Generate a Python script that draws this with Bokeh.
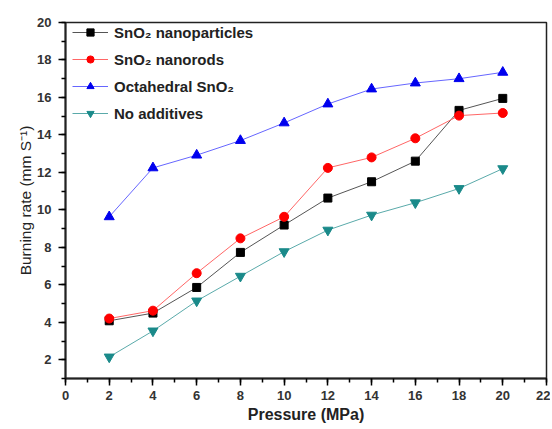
from bokeh.plotting import figure
from bokeh.models import Range1d, FixedTicker, Legend, LegendItem
from bokeh.embed import file_html
from bokeh.resources import INLINE

pressure = [2, 4, 6, 8, 10, 12, 14, 16, 18, 20]
nanoparticles = [4.08, 4.49, 5.86, 7.73, 9.19, 10.63, 11.5, 12.6, 15.31, 15.95]
nanorods = [4.2, 4.62, 6.62, 8.48, 9.63, 12.24, 12.8, 13.82, 15.03, 15.17]
octahedral = [9.63, 12.24, 12.92, 13.7, 14.64, 15.65, 16.45, 16.77, 17.0, 17.34]
no_additives = [2.15, 3.54, 5.14, 6.46, 7.77, 8.92, 9.72, 10.38, 11.14, 12.2]

x_ticks = list(range(0, 23, 2))
y_ticks = list(range(2, 21, 2))
x_title = "Pressure (MPa)"
y_title = "Burning rate (mm S\u207b\u00b9)"

p = figure(width=550, height=428, output_backend="svg", toolbar_location=None,
           x_range=Range1d(0, 22), y_range=Range1d(1, 20),
           min_border_left=65, min_border_right=4, min_border_top=22, min_border_bottom=50)
p.background_fill_color = "white"
p.border_fill_color = "white"
p.grid.visible = False
p.outline_line_color = "#222222"
p.outline_line_width = 1.5

FONT = "Liberation Sans"
for ax in (p.xaxis[0], p.yaxis[0]):
    ax.axis_line_width = 2
    ax.axis_line_color = "#222222"
    ax.major_tick_line_width = 1.5
    ax.minor_tick_line_width = 1.5
    ax.major_tick_out = 7
    ax.major_tick_in = 0
    ax.minor_tick_out = 4
    ax.minor_tick_in = 0
    ax.major_label_text_font = FONT
    ax.major_label_text_font_style = "bold"
    ax.major_label_text_font_size = "13px"
    ax.major_label_text_color = "#333333"
    ax.axis_label_text_font = FONT
    ax.axis_label_text_color = "#222222"

p.xaxis[0].major_label_standoff = 5
p.yaxis[0].major_label_standoff = 7
p.xaxis[0].ticker = FixedTicker(ticks=x_ticks, minor_ticks=list(range(0, 23)))
p.yaxis[0].ticker = FixedTicker(ticks=y_ticks, minor_ticks=list(range(1, 21)))
p.xaxis.axis_label = x_title
p.xaxis.axis_label_text_font_style = "bold"
p.xaxis.axis_label_text_font_size = "16px"
p.xaxis.axis_label_standoff = 3
p.yaxis.axis_label = y_title
p.yaxis.axis_label_text_font_style = "normal"
p.yaxis.axis_label_text_font_size = "15.5px"
p.yaxis.axis_label_standoff = 0

series = [
    ("SnO\u2082 nanoparticles", nanoparticles, "black", "#555555", "square", 8),
    ("SnO\u2082 nanorods", nanorods, "#ff0000", "#ff6666", "circle", 9),
    ("Octahedral SnO\u2082", octahedral, "#0000ee", "#6666ff", "triangle", 10),
    ("No additives", no_additives, "#1a8a8a", "#5aaaaa", "inverted_triangle", 10),
]

items = []
for label, ys, col, lcol, marker, size in series:
    l = p.line(pressure, ys, line_color=lcol, line_width=1)
    m = p.scatter(pressure, ys, marker=marker, size=size, fill_color=col, line_color=col)
    items.append(LegendItem(label=label, renderers=[l, m]))

legend = Legend(items=items, location=(7, 256))
legend.border_line_color = None
legend.background_fill_alpha = 0
legend.label_text_font = FONT
legend.label_text_font_style = "bold"
legend.label_text_font_size = "15px"
legend.label_text_color = "#222222"
legend.glyph_width = 36
legend.glyph_height = 18
legend.label_height = 18
legend.spacing = 9
legend.padding = 0
legend.margin = 0
legend.label_standoff = 6
p.add_layout(legend)

open("out.html", "w").write(file_html(p, INLINE))
